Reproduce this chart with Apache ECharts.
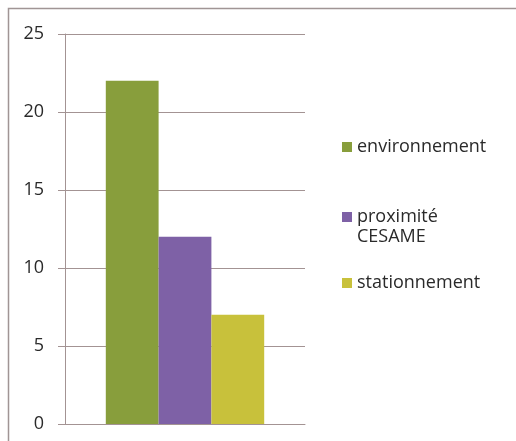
<!DOCTYPE html>
<html>
<head>
<meta charset="utf-8">
<script src="https://cdn.jsdelivr.net/npm/echarts@6/dist/echarts.min.js"></script>
<style>
  html, body { margin: 0; padding: 0; background: #fff; }
  #chart { width: 516px; height: 441px; }
</style>
</head>
<body>
<div id="chart"></div>
<script>
// données
const categories = [''];
const seriesNames = ['environnement', 'proximité CESAME', 'stationnement'];
const seriesValues = [22, 12, 7];
const seriesColors = ['#889e3c', '#7e61a6', '#c8c13b'];
const yTicks = [0, 5, 10, 15, 20, 25];

const chart = echarts.init(document.getElementById('chart'));
const font = '"Open Sans", Lato, sans-serif';
const gridColor = '#a39393';

// une légende par série pour placer chaque entrée comme sur l'image
const legendTops = [132, 182, 268];
const legends = seriesNames.map((name, i) => ({
  orient: 'vertical',
  left: 337,
  top: legendTops[i],
  itemWidth: 10,
  itemHeight: 10,
  itemGap: 0,
  icon: 'rect',
  data: [name],
  // ligne vide en tête pour que le carré reste en face de « proximité »
  formatter: n => n === 'proximité CESAME' ? ' \nproximité\nCESAME' : n,
  textStyle: { fontFamily: font, fontSize: 18, color: '#2a2a2a', lineHeight: 20 }
}));

const option = {
  backgroundColor: '#fff',
  animation: false,
  grid: { left: 65, right: 211, top: 34, bottom: 17 },
  legend: legends,
  xAxis: {
    type: 'category',
    data: categories,
    axisLine: { show: true, lineStyle: { color: gridColor, width: 1 } },
    axisTick: { show: false },
    axisLabel: { show: false }
  },
  yAxis: {
    type: 'value',
    min: yTicks[0],
    max: yTicks[yTicks.length - 1],
    interval: 5,
    axisLine: { show: true, lineStyle: { color: gridColor } },
    axisTick: { show: true, length: 7, lineStyle: { color: gridColor } },
    axisLabel: { fontFamily: font, fontSize: 18, color: '#2a2a2a', margin: 21 },
    splitLine: { lineStyle: { color: gridColor } }
  },
  series: seriesNames.map((name, i) => ({
    type: 'bar',
    name: name,
    data: [seriesValues[i]],
    itemStyle: { color: seriesColors[i] },
    barGap: '0%',
    barCategoryGap: '34%'
  })),
  graphic: [{
    type: 'polyline',
    shape: { points: [[8.5, 441], [8.5, 8.5], [516, 8.5]] },
    style: { stroke: '#a09595', lineWidth: 1.5, fill: null }
  }]
};
chart.setOption(option);
</script>
</body>
</html>
